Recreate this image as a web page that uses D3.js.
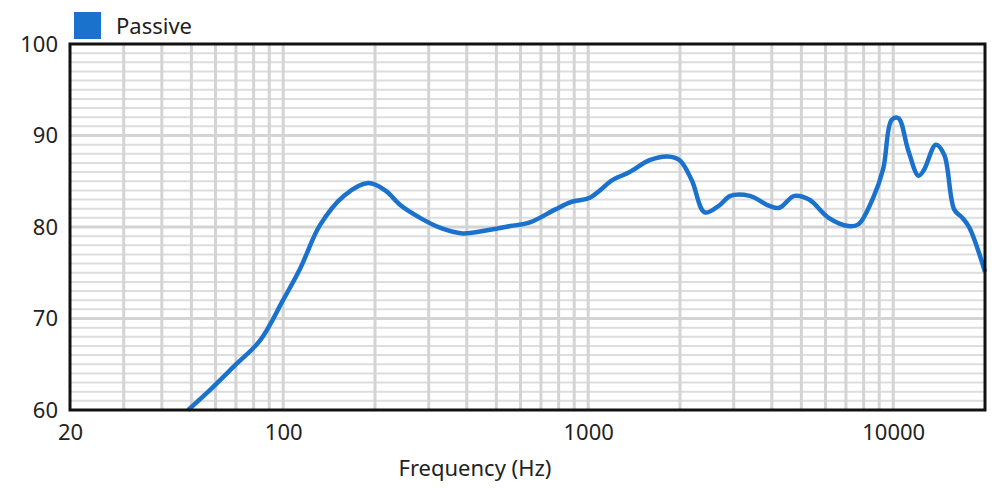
<!DOCTYPE html><html><head><meta charset="utf-8"><script src="https://cdn.jsdelivr.net/npm/d3@7"></script>
<style>body{margin:0;background:#fff}text{font-family:"Noto Sans",sans-serif;fill:#222}</style></head><body><svg id="c" width="1006" height="488"></svg><script>
const freqs=[48.8,57.6,69.6,84,99.9,113.8,132,158,190,216,242,281,328,387,477,555,644,778,873,1012,1093,1196,1368,1590,1820,1995,2186,2410,2700,2925,3388,3930,4240,4740,5300,6145,7130,7700,8600,9280,9880,10400,11200,12100,12600,13800,14700,15860,16860,17800,20000];
const passive=[60,62.2,64.9,67.6,72,75.5,80.2,83.4,84.8,84,82.4,81,79.9,79.3,79.7,80.1,80.5,81.9,82.7,83.2,84,85.1,86,87.3,87.7,87.3,85.1,81.6,82.4,83.4,83.4,82.3,82.1,83.4,83,81,80.1,80.3,83.2,86.4,91.7,91.9,88.4,85.6,86.2,89,87.9,81.9,81,79.9,75.1];
const xTicks=[20,100,1000,10000];
const yTicks=[60,70,80,90,100];
const svg=d3.select("#c");
const L=70,R=985,T=44,B=410;
const x=d3.scaleLog().domain([20,20000]).range([L,R]);
const y=d3.scaleLinear().domain([60,100]).range([B,T]);
const g=svg.append("g");
for(let v=61;v<100;v++){if(v%10)g.append("line").attr("x1",L).attr("x2",R).attr("y1",y(v)).attr("y2",y(v)).attr("stroke","#ddd").attr("stroke-width",2);}
[70,80,90].forEach(v=>g.append("line").attr("x1",L).attr("x2",R).attr("y1",y(v)).attr("y2",y(v)).attr("stroke","#d4d4d4").attr("stroke-width",3));
[10,100,1000,10000].forEach(d=>{for(let m=1;m<10;m++){const f=d*m;if(f<=20||f>=20000)continue;g.append("line").attr("x1",x(f)).attr("x2",x(f)).attr("y1",T).attr("y2",B).attr("stroke","#d4d4d4").attr("stroke-width",3);}});
svg.append("path").datum(freqs.map((f,i)=>[f,passive[i]])).attr("fill","none").attr("stroke","#1a72cc").attr("stroke-width",4.5)
 .attr("d",d3.line().x(d=>x(d[0])).y(d=>y(d[1])).curve(d3.curveCatmullRom.alpha(0.5)));
svg.append("rect").attr("x",L).attr("y",T).attr("width",R-L).attr("height",B-T).attr("fill","none").attr("stroke","#111").attr("stroke-width",3);
svg.append("g").attr("transform",`translate(0,${B})`).call(d3.axisBottom(x).tickValues(xTicks).tickFormat(d3.format("d")).tickSize(0).tickPadding(14)).call(a=>a.select(".domain").remove()).selectAll("text").attr("font-size",22).style("font-family","Noto Sans");
svg.append("g").attr("transform",`translate(${L},0)`).call(d3.axisLeft(y).tickValues(yTicks).tickSize(0).tickPadding(12)).call(a=>a.select(".domain").remove()).selectAll("text").attr("font-size",22).style("font-family","Noto Sans");
svg.append("text").attr("x",475).attr("y",476).attr("text-anchor","middle").attr("font-size",22).text("Frequency (Hz)");
svg.append("rect").attr("x",74).attr("y",12).attr("width",27).attr("height",27).attr("fill","#1a72cc");
svg.append("text").attr("x",116).attr("y",34).attr("font-size",22).text("Passive");
</script></body></html>
